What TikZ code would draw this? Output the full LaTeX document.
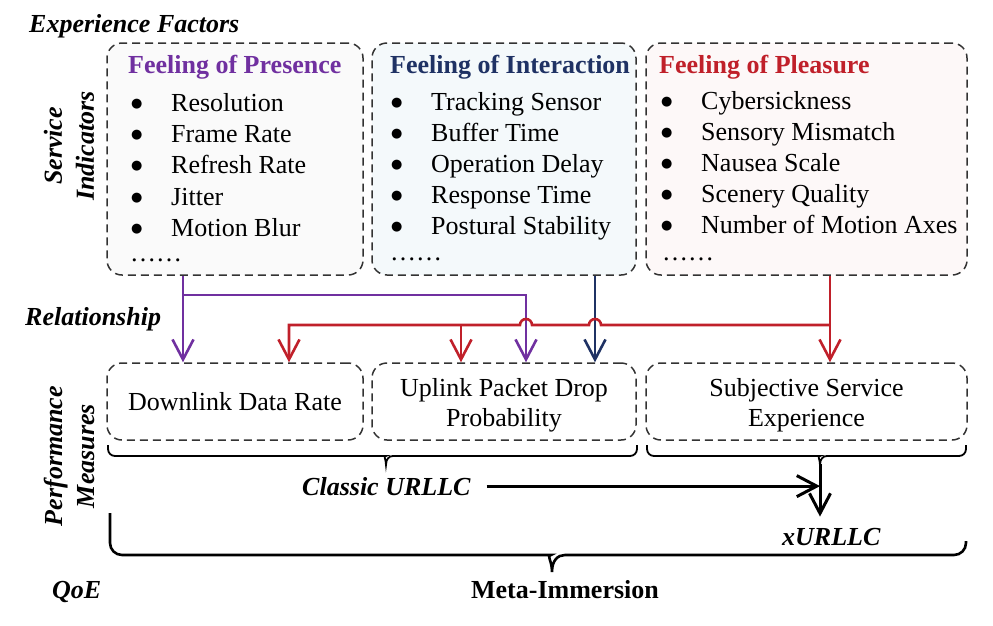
\documentclass[tikz,border=0pt]{standalone}
\usepackage{fontspec}
\setmainfont{Liberation Serif}
\newfontfamily\symfont{DejaVu Sans}
\usepackage{xcolor}
\usetikzlibrary{arrows.meta, positioning, calc}

\definecolor{presence}{RGB}{112,48,160}
\definecolor{interaction}{RGB}{31,50,100}
\definecolor{pleasure}{RGB}{192,32,42}
\definecolor{presbg}{RGB}{250,250,250}
\definecolor{interbg}{RGB}{244,249,251}
\definecolor{pleabg}{RGB}{253,248,248}
\newcommand{\itembullet}{\makebox[40pt][l]{\raisebox{4pt}{\fontsize{13}{13}\symfont ●}}}

\begin{document}
\begin{tikzpicture}[x=1pt, y=-1pt]
    % Define styles
    \tikzstyle{factor} = [rectangle, rounded corners=15pt, draw=black!80, line width=1.5pt, dash pattern=on 8pt off 5pt]
    \tikzstyle{measure} = [factor, minimum height=77pt, align=center, font=\fontsize{26}{30}\selectfont]
    \tikzstyle{title} = [anchor=base west, inner sep=0pt, font=\fontsize{26}{31}\selectfont\bfseries]
    \tikzstyle{item} = [anchor=base west, inner sep=0pt, font=\fontsize{26}{31}\selectfont]
    \tikzstyle{tag} = [inner sep=0pt, font=\fontsize{26}{32}\selectfont\bfseries\itshape]
    \tikzstyle{link} = [-{Straight Barb[length=20pt, width=21pt]}, line width=2.6pt]
    \tikzstyle{curly} = [line width=1.8pt, rounded corners=7pt]

    \useasboundingbox (0,0) rectangle (993,625);

    % Experience Factors
    \node[tag, anchor=base west] (ef) at (29,32) {Experience Factors};
    \node[tag, rotate=90, align=center] (si) at (69,146) {Service\\Indicators};

    % Feeling of Presence
    \node[factor, fill=presbg, minimum width=256pt, minimum height=232pt] (pres) at (235,159) {};
    \node[title, text=presence] (prest) at (128,73) {Feeling of Presence};
    \node[item] (p1) at (131,111) {\itembullet Resolution};
    \node[item] (p2) at (131,142.4) {\itembullet Frame Rate};
    \node[item] (p3) at (131,173.8) {\itembullet Refresh Rate};
    \node[item] (p4) at (131,205.2) {\itembullet Jitter};
    \node[item] (p5) at (131,236.6) {\itembullet Motion Blur};
    \node[item] (p6) at (130,261) {……};

    % Feeling of Interaction
    \node[factor, fill=interbg, minimum width=264pt, minimum height=232pt] (inter) at (504,159) {};
    \node[title, text=interaction] (intert) at (390,73) {Feeling of Interaction};
    \node[item] (i1) at (391,110) {\itembullet Tracking Sensor};
    \node[item] (i2) at (391,141) {\itembullet Buffer Time};
    \node[item] (i3) at (391,172.3) {\itembullet Operation Delay};
    \node[item] (i4) at (391,203.3) {\itembullet Response Time};
    \node[item] (i5) at (391,234.3) {\itembullet Postural Stability};
    \node[item] (i6) at (390,260) {……};

    % Feeling of Pleasure
    \node[factor, fill=pleabg, minimum width=321pt, minimum height=232pt] (plea) at (806.5,159) {};
    \node[title, text=pleasure] (pleat) at (659,73) {Feeling of Pleasure};
    \node[item] (s1) at (661,109) {\itembullet Cybersickness};
    \node[item] (s2) at (661,140) {\itembullet Sensory Mismatch};
    \node[item] (s3) at (661,171.3) {\itembullet Nausea Scale};
    \node[item] (s4) at (661,202) {\itembullet Scenery Quality};
    \node[item] (s5) at (661,233) {\itembullet Number of Motion Axes};
    \node[item] (s6) at (662,260) {……};

    % Relationship
    \node[tag, anchor=base west] (rel) at (25,325) {Relationship};

    % Performance Measures
    \node[tag, rotate=90, align=center] (pm) at (69,456) {Performance\\Measures};
    \node[measure, minimum width=256pt] (dl) at (235,401.5) {Downlink Data Rate};
    \node[measure, minimum width=264pt] (ul) at (504,401.5) {\rule{0pt}{26pt}Uplink Packet Drop\\Probability};
    \node[measure, minimum width=321pt] (sse) at (806.5,401.5) {\rule{0pt}{26pt}Subjective Service\\Experience};

    % QoE
    \node[tag, anchor=base west] (classic) at (302,495) {Classic URLLC};
    \node[tag, anchor=base west] (xu) at (782,545) {xURLLC};
    \node[tag, anchor=base west] (qoe) at (52,598) {QoE};
    \node[tag, font=\fontsize{26}{32}\selectfont\bfseries, anchor=base] (meta) at (565,598) {Meta-Immersion};

    % Arrows
    \coordinate (xp) at (183,0);
    \coordinate (xq) at (526,0);
    \coordinate (xi) at (595,0);
    \coordinate (xr) at (830,0);
    \coordinate (xd) at (289,0);
    \coordinate (xm) at (461,0);
    \coordinate (pj) at (183,295);
    \coordinate (rj) at (830,325);
    \coordinate (bt) at (820,464);
    \draw[link, presence] (xp |- pres.south) -- (xp |- dl.north);
    \draw[link, presence] (pj) -| (xq |- ul.north);
    \draw[link, interaction] (xi |- inter.south) -- (xi |- ul.north);
    \draw[link, pleasure] (xr |- plea.south) -- (xr |- sse.north);
    \draw[link, pleasure] (rj) -- (601,325) arc[start angle=0, end angle=-180, radius=6] -- (532,325) arc[start angle=0, end angle=-180, radius=6] -| (xd |- dl.north);
    \draw[link, pleasure] (xm |- rj) -- (xm |- ul.north);

    % Braces
    \draw[curly] (108,445) |- (379,456) [sharp corners] .. controls (383,456) and (386,459) .. (386,465) .. controls (386,459) and (389,456) .. (393,456) [rounded corners=7pt] -| (637,445);
    \draw[curly] (647,445) |- (813,456) [sharp corners] .. controls (817,456) and (820,459) .. (820,465) .. controls (820,459) and (823,456) .. (827,456) [rounded corners=7pt] -| (966,445);
    \draw[curly, line width=2.6pt, rounded corners=12pt] (110,513) |- (539,555) [sharp corners] .. controls (546,555) and (552,560) .. (552,572) .. controls (552,560) and (558,555) .. (565,555) [rounded corners=12pt] -| (966,541);

    \draw[link, line width=3pt, shorten <=16pt] (classic.east) -- (bt |- classic.east);
    \draw[link, line width=3pt, shorten >=11pt] (bt) -- (bt |- xu.north);

\end{tikzpicture}
\end{document}
